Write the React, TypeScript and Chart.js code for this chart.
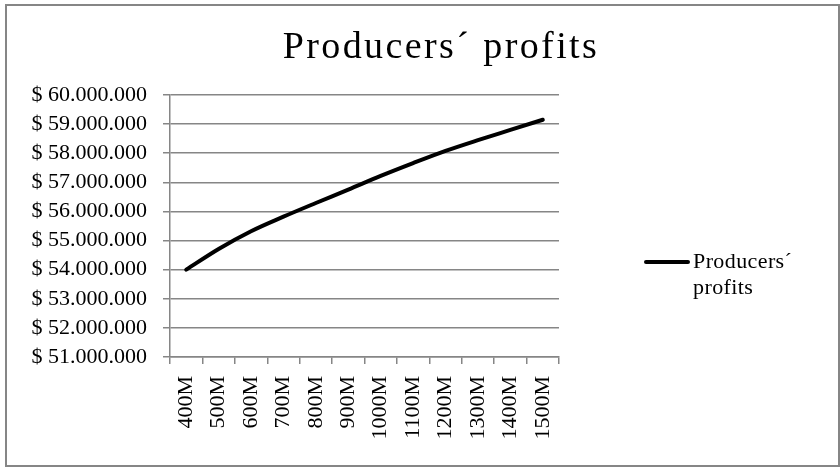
import React, { useEffect, useRef } from "react";
import { Chart, registerables } from "chart.js";

Chart.register(...registerables);

const categories = ["400M", "500M", "600M", "700M", "800M", "900M", "1000M", "1100M", "1200M", "1300M", "1400M", "1500M"];
const profits = [54000000, 54710000, 55320000, 55820000, 56290000, 56750000, 57220000, 57660000, 58080000, 58450000, 58800000, 59150000];
const yMin = 51000000;
const yMax = 60000000;
const yStep = 1000000;
const titleText = "Producers´ profits";
const legendLines = ["Producers´", "profits"];

const FONT = "'Liberation Serif', 'Times New Roman', serif";

function fmt(v: number): string {
  const s = Math.round(v).toString();
  let out = "";
  for (let i = 0; i < s.length; i++) {
    const fromEnd = s.length - i;
    out += s[i];
    if (fromEnd > 1 && (fromEnd - 1) % 3 === 0) out += ".";
  }
  return "$ " + out;
}

const decorPlugin = {
  id: "decor",
  afterDraw(chart: any) {
    const ctx = chart.ctx;
    ctx.save();
    // border
    ctx.strokeStyle = "#868686";
    ctx.lineWidth = 2;
    ctx.strokeRect(6, 5, 833, 461);
    // title
    ctx.fillStyle = "#000";
    ctx.font = `38px ${FONT}`;
    (ctx as any).letterSpacing = "2.4px";
    ctx.textAlign = "left";
    ctx.textBaseline = "alphabetic";
    const w = ctx.measureText(titleText).width;
    ctx.fillText(titleText, 441 - w / 2, 58);
    // legend
    ctx.strokeStyle = "#000";
    ctx.lineWidth = 4;
    ctx.lineCap = "round";
    ctx.beginPath();
    ctx.moveTo(646, 262);
    ctx.lineTo(688, 262);
    ctx.stroke();
    ctx.font = `22px ${FONT}`;
    (ctx as any).letterSpacing = "0.4px";
    ctx.textAlign = "left";
    ctx.textBaseline = "middle";
    legendLines.forEach((t, i) => ctx.fillText(t, 693, 262 + i * 26));
    ctx.restore();
  },
};

export default function App() {
  const ref = useRef<HTMLCanvasElement>(null);
  useEffect(() => {
    if (!ref.current) return;
    const chart = new Chart(ref.current, {
      type: "line",
      data: {
        labels: categories,
        datasets: [
          {
            label: "Producers´ profits",
            data: profits,
            borderColor: "#000",
            borderWidth: 4,
            pointRadius: 0,
            cubicInterpolationMode: "monotone",
            borderCapStyle: "round",
            borderJoinStyle: "round",
            fill: false,
          },
        ],
      },
      options: {
        animation: false,
        responsive: false,
        layout: { padding: { left: 0, top: 95, right: 281, bottom: 20 } },
        plugins: {
          legend: { display: false },
          title: { display: false },
          tooltip: { enabled: false },
        },
        scales: {
          x: {
            offset: true,
            grid: {
              offset: true,
              drawOnChartArea: false,
              drawTicks: true,
              tickLength: 7,
              color: "#868686",
              lineWidth: 1.5,
            },
            border: { color: "#868686", width: 1.5 },
            ticks: {
              color: "#000",
              font: { family: FONT, size: 22 },
              minRotation: 90,
              maxRotation: 90,
              padding: 12,
              autoSkip: false,
            },
            afterFit: (s: any) => {
              s.height = 90;
            },
          },
          y: {
            min: yMin,
            max: yMax,
            grid: {
              color: "#868686",
              lineWidth: 1.5,
              tickLength: 7,
            },
            border: { color: "#868686", width: 1.5 },
            ticks: {
              stepSize: yStep,
              autoSkip: false,
              color: "#000",
              font: { family: FONT, size: 22 },
              padding: 16,
              callback: (v: any) => fmt(Number(v)),
            },
            afterFit: (s: any) => {
              s.width = 170;
            },
          },
        },
      },
      plugins: [decorPlugin],
    });
    return () => chart.destroy();
  }, []);
  return (
    <div style={{ position: "fixed", left: 0, top: 0, width: 840, height: 467, background: "#fff" }}>
      <canvas ref={ref} width={840} height={467} style={{ display: "block" }} />
    </div>
  );
}
